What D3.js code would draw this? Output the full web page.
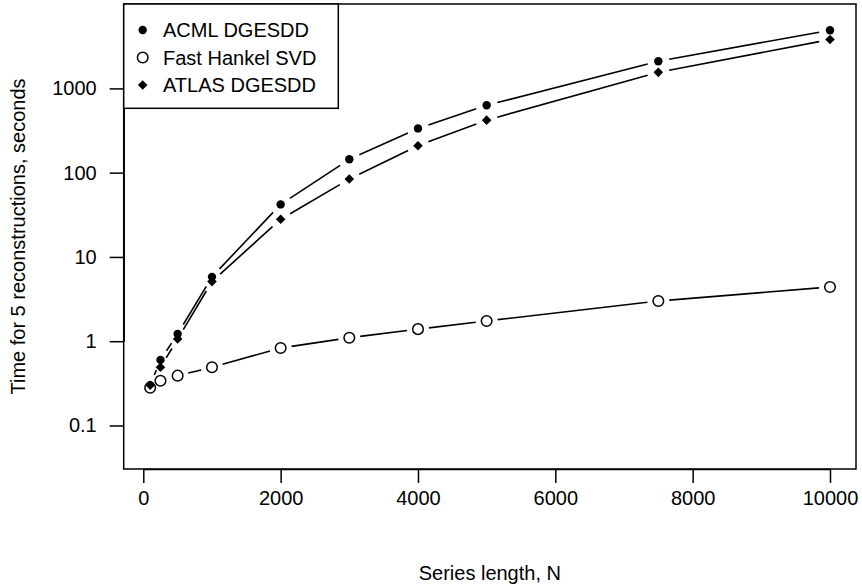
<!DOCTYPE html>
<html>
<head>
<meta charset="utf-8">
<script src="https://cdn.jsdelivr.net/npm/d3@7"></script>
<style>
  html, body { margin: 0; padding: 0; background: #fff; }
  svg { display: block; font-family: "Liberation Sans", Arial, Helvetica, sans-serif; }
</style>
</head>
<body>
<svg id="chart" width="862" height="587"></svg>
<script>
// ---- data ----
const seriesLength = [100, 250, 500, 1000, 2000, 3000, 4000, 5000, 7500, 10000];
const acml   = [0.30, 0.60, 1.22, 5.8, 42, 144, 335, 630, 2100, 4900];
const hankel = [0.28, 0.34, 0.39, 0.49, 0.83, 1.10, 1.39, 1.74, 3.0, 4.4];
const atlas  = [0.30, 0.49, 1.06, 5.1, 28, 84, 209, 420, 1550, 3800];
const seriesNames = ["ACML DGESDD", "Fast Hankel SVD", "ATLAS DGESDD"];
const xTicks = [0, 2000, 4000, 6000, 8000, 10000];
const yTicks = [0.1, 1, 10, 100, 1000];
const yTickLabels = ["0.1", "1", "10", "100", "1000"];
const xTitle = "Series length, N";
const yTitle = "Time for 5 reconstructions, seconds";

// ---- layout ----
const box = { left: 123.7, right: 856, top: 4, bottom: 469 };
const svg = d3.select("#chart");
const FS = 20;

const x = d3.scaleLinear().domain([0, 10000]).range([143.3, 830]);
const y = d3.scaleLog().domain([1, 1000]).range([341.2, 88.4]);

// plot box
svg.append("rect")
  .attr("x", box.left).attr("y", box.top)
  .attr("width", box.right - box.left).attr("height", box.bottom - box.top)
  .attr("fill", "none").attr("stroke", "#000").attr("stroke-width", 1.5);

// x axis
const xAxis = d3.axisBottom(x).tickValues(xTicks).tickFormat(d3.format("d"))
  .tickSize(14).tickPadding(8).tickSizeOuter(0);
const gx = svg.append("g").attr("transform", `translate(0,${box.bottom})`).call(xAxis);
gx.select(".domain").attr("stroke-width", 1.5);
gx.selectAll(".tick line").attr("stroke-width", 1.5);
gx.selectAll("text").attr("font-size", FS).attr("font-family", null).attr("fill", "#000");

// y axis
const yAxis = d3.axisLeft(y).tickValues(yTicks).tickFormat((d, i) => yTickLabels[i])
  .tickSize(14).tickPadding(13).tickSizeOuter(0);
const gy = svg.append("g").attr("transform", `translate(${box.left},0)`).call(yAxis);
gy.select(".domain").attr("stroke-width", 1.5);
gy.selectAll(".tick line").attr("stroke-width", 1.5);
gy.selectAll("text").attr("font-size", FS).attr("font-family", null).attr("fill", "#000");

// titles
svg.append("text").attr("x", (box.left + box.right) / 2).attr("y", 580)
  .attr("text-anchor", "middle").attr("font-size", FS).text(xTitle);
svg.append("text")
  .attr("transform", `translate(25,${(box.top + box.bottom) / 2}) rotate(-90)`)
  .attr("text-anchor", "middle").attr("font-size", FS).text(yTitle);

// type="b" style lines (gaps around points)
const GAP = 11;
function drawSeries(vals) {
  const pts = seriesLength.map((n, i) => [x(n), y(vals[i])]);
  const g = svg.append("g");
  for (let i = 0; i < pts.length - 1; i++) {
    const [x0, y0] = pts[i], [x1, y1] = pts[i + 1];
    const dx = x1 - x0, dy = y1 - y0, L = Math.hypot(dx, dy);
    if (L <= 2 * GAP) continue;
    const ux = dx / L, uy = dy / L;
    g.append("line")
      .attr("x1", x0 + ux * GAP).attr("y1", y0 + uy * GAP)
      .attr("x2", x1 - ux * GAP).attr("y2", y1 - uy * GAP)
      .attr("stroke", "#000").attr("stroke-width", 1.6);
  }
  return pts;
}
function dot(g, cx, cy) {
  g.append("circle").attr("cx", cx).attr("cy", cy).attr("r", 4.2).attr("fill", "#000");
}
function ring(g, cx, cy) {
  g.append("circle").attr("cx", cx).attr("cy", cy).attr("r", 5.3)
    .attr("fill", "#fff").attr("stroke", "#000").attr("stroke-width", 1.5);
}
function diamond(g, cx, cy) {
  const s = 4.8;
  g.append("path").attr("d", `M${cx},${cy - s}L${cx + s},${cy}L${cx},${cy + s}L${cx - s},${cy}Z`)
    .attr("fill", "#000");
}

const pA = drawSeries(acml);
const pH = drawSeries(hankel);
const pT = drawSeries(atlas);
const gm = svg.append("g");
pA.forEach(p => dot(gm, p[0], p[1]));
pH.forEach(p => ring(gm, p[0], p[1]));
pT.forEach(p => diamond(gm, p[0], p[1]));

// legend
const lg = svg.append("g");
lg.append("rect").attr("x", box.left).attr("y", box.top)
  .attr("width", 338.3 - box.left).attr("height", 108.3 - box.top)
  .attr("fill", "#fff").attr("stroke", "#000").attr("stroke-width", 1.5);
const legY = [30, 57.5, 85];
const marks = [dot, ring, diamond];
seriesNames.forEach((name, i) => {
  marks[i](lg, 142.7, legY[i]);
  lg.append("text").attr("x", 163).attr("y", legY[i]).attr("dy", "0.35em")
    .attr("font-size", FS).text(name);
});
</script>
</body>
</html>
